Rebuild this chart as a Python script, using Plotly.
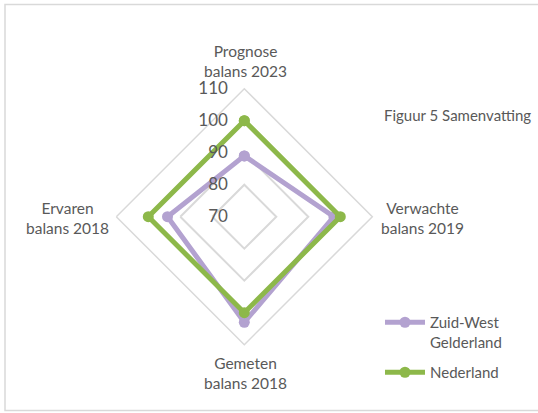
import plotly.graph_objects as go

# Balance index per dimension (Nederland = 100)
categories = ["Prognose balans 2023", "Verwachte balans 2019",
              "Gemeten balans 2018", "Ervaren balans 2018"]
category_labels = ["Prognose<br>balans 2023", "Verwachte<br>balans 2019",
                   "Gemeten<br>balans 2018", "Ervaren<br>balans 2018"]
zwg_values = [89, 98, 103, 94]
nl_values = [100, 100, 100, 100]
series_names = ["Zuid-West<br>Gelderland", "Nederland"]
radial_ticks = [70, 80, 90, 100, 110]

W, H = 538, 413
TEXT = "#595959"
GRID = "#d9d9d9"
PURPLE = "#b3a2d0"
GREEN = "#8db84a"
FONT = "Lato"


def px(x):
    return x / W


def py(y):
    return 1 - y / H


fig = go.Figure()
for i, (name, vals, col) in enumerate([(series_names[0], zwg_values, PURPLE),
                                        (series_names[1], nl_values, GREEN)]):
    fig.add_trace(go.Scatterpolar(
        r=vals + vals[:1],
        theta=categories + categories[:1],
        mode="lines+markers",
        name=name,
        legendgroup=f"g{i}",
        line=dict(color=col, width=5),
        marker=dict(color=col, size=11),
    ))

# polar area centred at (244, 217) with outer radius 128 px
cx, cy, R = 244.3, 216.7, 128
fig.update_layout(
    width=W, height=H,
    margin=dict(l=0, r=0, t=0, b=0),
    paper_bgcolor="white",
    plot_bgcolor="white",
    font=dict(family=FONT, color=TEXT),
    polar=dict(
        domain=dict(x=[px(cx - R), px(cx + R)], y=[py(cy + R), py(cy - R)]),
        gridshape="linear",
        bgcolor="white",
        radialaxis=dict(
            range=[70, 110], tickvals=radial_ticks,
            angle=90, tickangle=90, side="counterclockwise",
            showline=False, gridcolor=GRID, gridwidth=1.5,
            ticks="outside", ticklen=10, tickcolor="rgba(0,0,0,0)",
            tickfont=dict(size=17, color=TEXT, family=FONT),
        ),
        angularaxis=dict(
            type="category", categoryarray=categories,
            rotation=90, direction="clockwise",
            showticklabels=False, showgrid=False, ticks="",
            showline=True, linecolor=GRID, linewidth=1.5,
        ),
    ),
    legend=dict(
        x=px(380), y=py(306), xanchor="left", yanchor="top",
        valign="top", font=dict(size=15, color=TEXT, family=FONT),
        itemwidth=40, tracegroupgap=8, bgcolor="rgba(0,0,0,0)",
    ),
    showlegend=True,
)

# category labels around the diamond
label_pos = [(245, 61), (422, 218), (245, 373), (67, 218)]
for txt, (x, y) in zip(category_labels, label_pos):
    fig.add_annotation(x=px(x), y=py(y), xref="paper", yref="paper",
                       text=txt, showarrow=False, xanchor="center",
                       yanchor="middle", align="center",
                       font=dict(size=15.5, color=TEXT, family=FONT))

fig.add_annotation(x=px(382), y=py(115), xref="paper", yref="paper",
                   text="Figuur 5 Samenvatting", showarrow=False,
                   xanchor="left", yanchor="middle",
                   font=dict(size=15, color=TEXT, family=FONT))

# outer chart frame
fig.add_shape(type="rect", xref="paper", yref="paper",
              x0=px(5), x1=px(560), y0=py(410.5), y1=py(4.5),
              line=dict(color=GRID, width=1.5), layer="below")

fig.write_html("out.html")
